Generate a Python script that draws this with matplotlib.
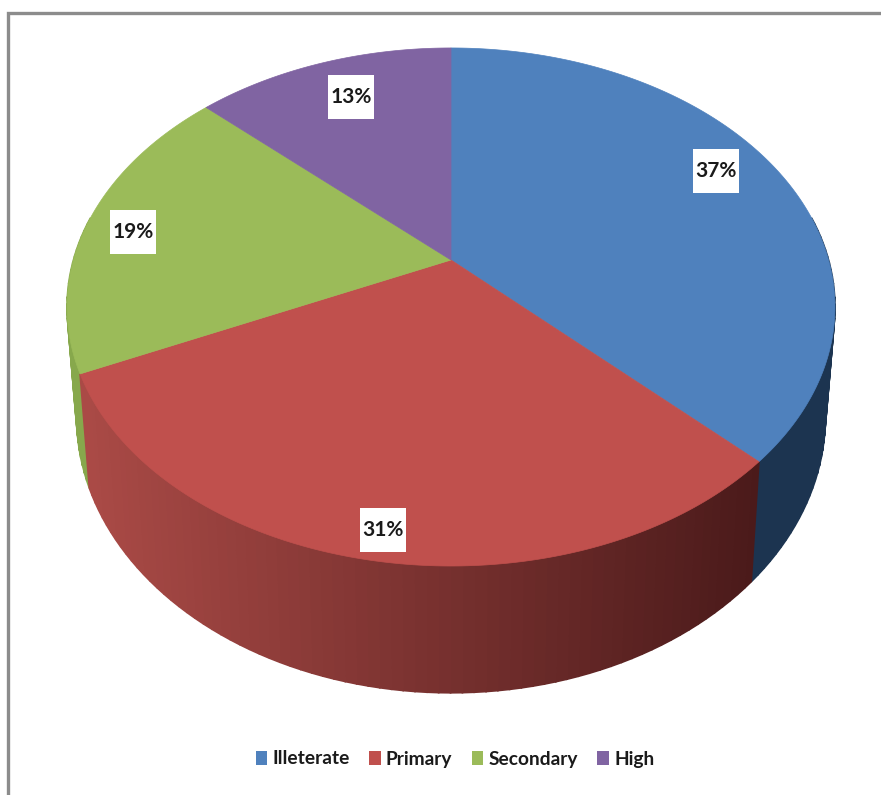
import numpy as np
import matplotlib
matplotlib.use("Agg")
import matplotlib.pyplot as plt
from matplotlib.patches import Polygon, Rectangle, Patch
from matplotlib.colors import to_rgb

categories = ["Illeterate", "Primary", "Secondary", "High"]
values = [37.4, 30.7, 18.9, 13.0]
top_colors = ["#4f81bd", "#c0504d", "#9bbb59", "#8064a2"]
side_left = {0: "#1c3450", 1: "#aa4a46", 2: "#87a84c", 3: "#6a5288"}
side_right = {0: "#1c3450", 1: "#4a1a1a", 2: "#87a84c", 3: "#6a5288"}

label_pos = [(716, 171), (383, 530), (133, 232), (351, 97)]

FONT = "Lato"

W, H = 881, 795
fig = plt.figure(figsize=(W / 100, H / 100), dpi=100, facecolor="white")
ax = fig.add_axes([0, 0, 1, 1])
ax.set_xlim(0, W)
ax.set_ylim(H, 0)
ax.axis("off")

# perspective projection of the pie disc
CX, CY, A, B, K = 451.0, 260.0, 377.6, 250.5, 0.1814
S_X, S_Y, D_Y = 0.975, 1.065, 90.0


def top(theta):
    u, v = np.sin(theta), np.cos(theta)
    w = 1 + K * v
    return CX + A * u / w, CY - B * v / w


def bottom(theta):
    x, y = top(theta)
    return CX + S_X * (x - CX), S_Y * y + D_Y


fracs = np.array(values, float) / sum(values)
edges = np.concatenate([[0], np.cumsum(fracs)]) * 2 * np.pi

# frame
ax.plot([8, 8, W], [H, 13, 13], color="#8c8c8c", lw=2.4, solid_joinstyle="miter", zorder=1)

x_lo, x_hi = 85.0, 760.0
# side wall, back to front: outer ends first
order = [0, 2, 1]
for i in order:
    a0, a1 = edges[i], edges[i + 1]
    a0c, a1c = max(a0, np.deg2rad(80)), min(a1, np.deg2rad(280))
    if a1c <= a0c:
        continue
    steps = max(int(np.rad2deg(a1c - a0c) / 1.5), 1)
    ts = np.linspace(a0c, a1c, steps + 1)
    cl, cr = np.array(to_rgb(side_left[i])), np.array(to_rgb(side_right[i]))
    for t0, t1 in zip(ts[:-1], ts[1:]):
        x0, y0 = top(t0)
        x1, y1 = top(t1)
        x2, y2 = bottom(t1)
        x3, y3 = bottom(t0)
        f = np.clip(((x0 + x1) / 2 - x_lo) / (x_hi - x_lo), 0, 1)
        c = cl + (cr - cl) * f
        ax.add_patch(Polygon([(x0, y0), (x1, y1), (x2, y2), (x3, y3)], closed=True,
                             facecolor=c, edgecolor=c, lw=1.2, zorder=2))

# top face
for i, col in enumerate(top_colors):
    ts = np.linspace(edges[i], edges[i + 1], 200)
    xs, ys = top(ts)
    pts = [(CX, CY)] + list(zip(xs, ys))
    ax.add_patch(Polygon(pts, closed=True, facecolor=col, edgecolor=col, lw=0.5, zorder=3))

# data labels
for v, (lx, ly) in zip(values, label_pos):
    ax.add_patch(Rectangle((lx - 23, ly - 22), 46, 44, facecolor="white", edgecolor="none", zorder=4))
    ax.text(lx, ly, f"{round(v)}%", ha="center", va="center", fontsize=15, family=FONT,
            fontweight="bold", color="#1a1a1a", zorder=5)

handles = [Patch(facecolor=c, edgecolor="none", label=n) for c, n in zip(top_colors, categories)]
ax.legend(handles=handles, loc="center", bbox_to_anchor=(455 / W, 1 - 759 / H), ncols=4,
          frameon=False, handlelength=0.6, handleheight=0.76, handletextpad=0.28,
          columnspacing=1.0, prop={"family": FONT, "size": 13.8, "weight": "bold"},
          labelcolor="#1a1a1a")

fig.savefig("out.png", dpi=100, facecolor="white")
